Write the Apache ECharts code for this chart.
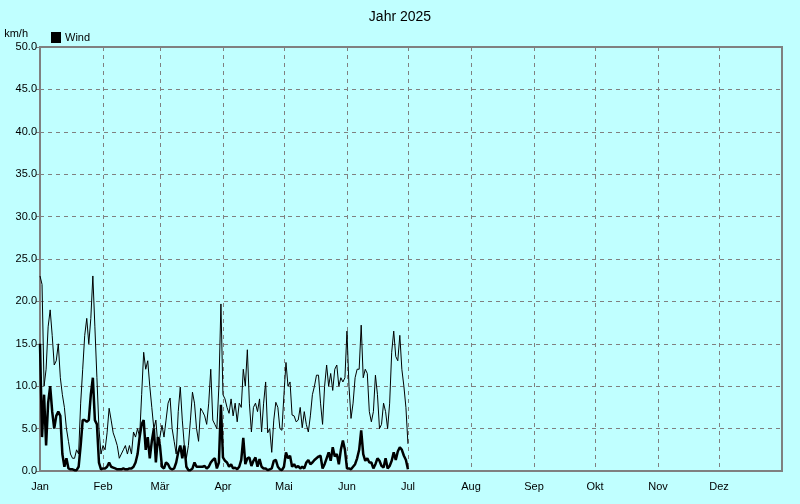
<!DOCTYPE html>
<html>
<head>
<meta charset="utf-8">
<script src="https://cdn.jsdelivr.net/npm/echarts@6/dist/echarts.min.js"></script>
<style>
html,body{margin:0;padding:0;background:#c0ffff;}
#chart{width:800px;height:504px;}
</style>
</head>
<body>
<div id="chart"></div>
<script>
// Month start day indices (day 0 = 1 Jan 2025, 365 = 1 Jan 2026)
const monthStarts = [0, 31, 59, 90, 120, 151, 181, 212, 243, 273, 304, 334];
const monthLabels = ['Jan', 'Feb', 'Mär', 'Apr', 'Mai', 'Jun', 'Jul', 'Aug', 'Sep', 'Okt', 'Nov', 'Dez'];
const yTicks = [0, 5, 10, 15, 20, 25, 30, 35, 40, 45, 50];

// Daily maximum wind (thin line), km/h, 1 Jan .. 1 Jul
const gustJan = [23, 22, 10, 12, 17, 19, 16, 12.5, 13, 15, 11, 9, 7.5, 5, 3.5, 2, 1.5, 1.5, 2.5, 2, 8, 12, 16, 18, 15, 18, 23, 17, 11, 5, 2];
const gustFeb = [3, 2.5, 4.5, 7.4, 6, 4.5, 3.8, 3, 1.5, 2, 2.5, 3, 2, 3, 2, 4.6, 4, 5, 4, 9, 14, 12, 13, 10, 7.5, 5, 6, 3];
const gustMar = [4, 5.4, 4, 6, 8, 8.6, 5, 3.5, 2, 7, 9.9, 6, 3, 1.5, 3, 6, 9.3, 8, 5, 3.5, 7.4, 7, 6.5, 5.5, 8, 12, 6, 5.5, 5, 10, 19.7];
const gustApr = [9, 8.5, 7.5, 6.8, 8.5, 6.5, 8, 5.8, 8, 7.5, 12, 10, 14.3, 8, 4.6, 7.5, 8, 7, 8.5, 4.6, 8, 10.5, 4.5, 5, 2.2, 6, 8.1, 7.5, 5, 4.8];
const gustMay = [9, 12.8, 10, 10.5, 6.6, 6.5, 5.8, 6, 7.5, 5.1, 7, 5.5, 4.6, 6.5, 9, 10, 11.3, 11.3, 8, 5.5, 10, 12.5, 10, 11.5, 9.5, 12, 12.5, 10, 11, 10.5, 11];
const gustJun = [16.5, 10, 6.2, 8, 11, 12, 12, 17.2, 11, 12, 11.5, 7, 5.8, 7, 11.3, 9, 5, 5.5, 8, 7, 5, 8, 14, 16.5, 13.5, 13, 16, 12, 10, 7.5];
const gustJul = [3.2];

// Daily mean wind (thick line), km/h
const meanJan = [15, 4, 9, 3, 8, 10, 7, 5, 6.5, 7, 6.5, 2, 0.5, 1.5, 0.3, 0.2, 0.2, 0.1, 0.1, 0.5, 3, 6, 6, 5.8, 6, 9, 11, 6, 5.5, 1, 0.2];
const meanFeb = [0.3, 0.3, 0.5, 1, 0.5, 0.4, 0.3, 0.2, 0.2, 0.2, 0.3, 0.2, 0.2, 0.3, 0.3, 0.5, 1, 2, 4, 5.5, 6, 2.5, 4, 1.5, 3.5, 5, 1, 4];
const meanMar = [3, 0.5, 0.3, 1, 0.8, 0.3, 0.2, 0.3, 1, 2.2, 3, 1.5, 3, 0.5, 0.1, 0.1, 0.3, 1, 0.5, 0.5, 0.5, 0.5, 0.6, 0.3, 0.5, 1, 1.3, 1.5, 0.3, 1, 7.8];
const meanApr = [1.6, 1.2, 1, 0.5, 0.8, 0.3, 0.4, 0.2, 0.5, 1.3, 3.9, 0.8, 1.5, 1.6, 0.6, 1.2, 1.6, 0.5, 1.4, 0.5, 0.3, 0.3, 0.1, 0.2, 0.3, 1.2, 1.3, 0.5, 0.2, 0.1];
const meanMay = [0.5, 2.2, 1.5, 1.8, 0.5, 0.8, 0.4, 0.6, 0.3, 0.5, 0.3, 1, 1.3, 0.8, 1, 1.3, 1.5, 1.7, 1.8, 0.3, 0.8, 1.5, 2.2, 1.2, 2.8, 1.7, 2, 0.8, 2.5, 3.6, 2.5];
const meanJun = [0.3, 0.3, 0.2, 0.5, 0.8, 1.5, 2.5, 4.8, 2, 1.2, 1.5, 1, 1, 0.3, 0.8, 1.5, 1.2, 0.6, 0.4, 1.5, 0.3, 0.6, 1.2, 2.2, 1.3, 2.3, 2.8, 2.5, 1.8, 1.3];
const meanJul = [0.2];

const gustValues = [].concat(gustJan, gustFeb, gustMar, gustApr, gustMay, gustJun, gustJul);
const meanValues = [].concat(meanJan, meanFeb, meanMar, meanApr, meanMay, meanJun, meanJul);

const dayCats = [];
for (let i = 0; i <= 365; i++) dayCats.push(String(i));
const isMonthStart = (idx) => monthStarts.indexOf(idx) >= 0;

const chart = echarts.init(document.getElementById('chart'), null, {renderer: 'canvas'});
const font = '"Liberation Sans", Arial, sans-serif';
chart.setOption({
  backgroundColor: '#c0ffff',
  animation: false,
  textStyle: {fontFamily: font, color: '#000'},
  title: {
    text: 'Jahr 2025',
    left: 'center',
    top: 5,
    textStyle: {fontSize: 14, fontWeight: 'normal', color: '#000', fontFamily: font}
  },
  legend: {
    data: ['Wind'],
    left: 46,
    top: 27,
    itemWidth: 10,
    itemHeight: 11,
    itemGap: 4,
    icon: 'rect',
    textStyle: {fontSize: 11, color: '#000', fontFamily: font, padding: [0, 0, 0, -1]}
  },
  grid: {
    left: 40, right: 18, top: 47, bottom: 33,
    show: true, borderColor: '#808080', borderWidth: 2,
    containLabel: false
  },
  xAxis: {
    type: 'category',
    data: dayCats,
    boundaryGap: false,
    axisLine: {lineStyle: {color: '#808080', width: 2}},
    axisTick: {show: false},
    axisLabel: {
      interval: (idx) => isMonthStart(idx),
      formatter: (v, idx) => monthLabels[monthStarts.indexOf(Number(v))] || '',
      fontSize: 11, color: '#000', margin: 10, fontFamily: font
    },
    splitLine: {
      show: true,
      interval: (idx) => isMonthStart(idx),
      lineStyle: {color: '#808080', type: [4, 4], width: 1}
    }
  },
  yAxis: {
    type: 'value',
    min: yTicks[0], max: yTicks[yTicks.length - 1], interval: 5,
    name: 'km/h',
    nameLocation: 'end',
    nameGap: 8,
    nameTextStyle: {align: 'right', padding: [0, 12, 0, 0], fontSize: 11, color: '#000', fontFamily: font},
    axisLine: {show: true, lineStyle: {color: '#808080', width: 2}},
    axisTick: {show: true, length: 4, lineStyle: {color: '#808080'}},
    axisLabel: {formatter: (v) => v.toFixed(1), fontSize: 11, color: '#000', margin: 3, fontFamily: font},
    splitLine: {show: true, lineStyle: {color: '#808080', type: [4, 4], width: 1}}
  },
  series: [
    {
      name: 'Wind', type: 'line', data: gustValues, showSymbol: false, symbol: 'none',
      lineStyle: {color: '#000', width: 1}, itemStyle: {color: '#000'}, z: 2
    },
    {
      name: 'Wind', type: 'line', data: meanValues, showSymbol: false, symbol: 'none',
      lineStyle: {color: '#000', width: 2.5}, itemStyle: {color: '#000'}, z: 3
    }
  ]
});
</script>
</body>
</html>
